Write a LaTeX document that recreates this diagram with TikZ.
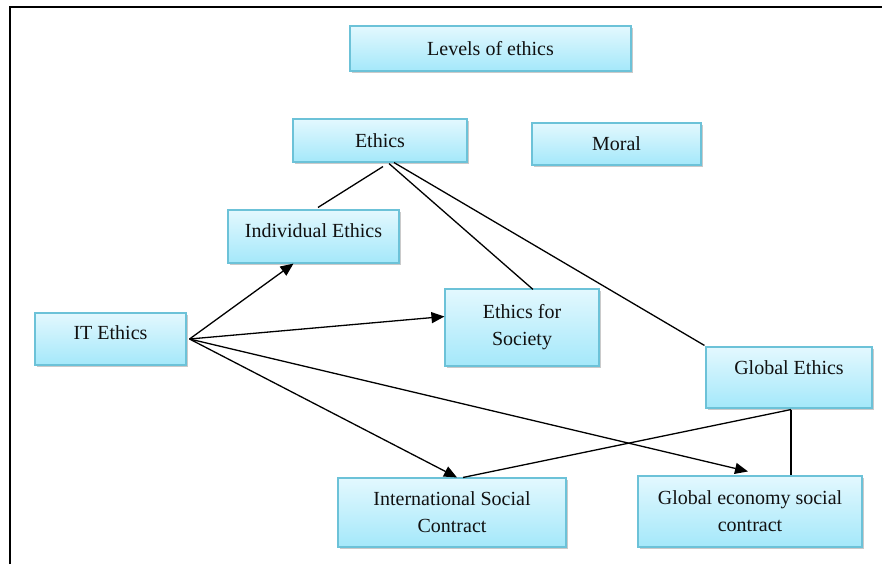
\documentclass[tikz,border=0pt]{standalone}
\usepackage{fontspec}
\setmainfont{Liberation Serif}
\usetikzlibrary{arrows.meta,shadows,calc}
\definecolor{boxtop}{HTML}{E3F8FE}
\definecolor{boxbot}{HTML}{A4E8FA}
\definecolor{boxline}{HTML}{6CC2D8}
\definecolor{txt}{HTML}{111111}
\newcommand{\upby}[2]{\raisebox{#1}[\height][\depth]{#2}}
\begin{document}
\begin{tikzpicture}[x=1pt,y=-1pt,
  box/.style={draw=boxline, line width=1.1pt, top color=boxtop, bottom color=boxbot,
    text=txt, align=center, inner sep=0pt,
    font=\fontsize{20}{27}\selectfont,
    drop shadow={shadow xshift=1.5pt, shadow yshift=-2pt, opacity=0.35, fill=black!60}},
  link/.style={line width=1.3pt, draw=black},
  arr/.style={link, -{Triangle[length=13pt,width=11pt]}}]
\useasboundingbox (0,0) rectangle (882,564);
\draw[line width=2.3pt] (9.7,564) -- (9.7,7.2) -- (882,7.2);

\node[box, minimum width=281pt, minimum height=45pt] (lev) at (490.5,48.5) {Levels of ethics};
\node[box, minimum width=174pt, minimum height=43pt] (eth) at (380,140.5) {Ethics};
\node[box, minimum width=169pt, minimum height=42pt] (mor) at (616.5,144) {Moral};
\node[box, minimum width=171pt, minimum height=53pt] (ind) at (313.5,236.5) {\upby{6pt}{Individual Ethics}};
\node[box, minimum width=151pt, minimum height=52pt] (it) at (110.5,339) {\upby{6pt}{IT Ethics}};
\node[box, minimum width=154pt, minimum height=77pt] (efs) at (522,327.5) {Ethics for\\Society};
\node[box, minimum width=166pt, minimum height=61pt] (ge) at (789,377.5) {\upby{10pt}{Global Ethics}};
\node[box, minimum width=228pt, minimum height=69pt] (isc) at (452,512.5) {International Social\\Contract};
\node[box, minimum width=224pt, minimum height=71pt] (gec) at (750,511.5) {Global economy social\\contract};

% Ethics links
\draw[link] ([xshift=3pt,yshift=-4pt]eth.south) -- ([xshift=4.5pt,yshift=2pt]ind.north);
\draw[link] ([xshift=9pt,yshift=-1pt]eth.south) -- ([xshift=11pt,yshift=-1pt]efs.north);
\draw[link] ([xshift=14pt]eth.south) -- ([xshift=-1pt,yshift=1pt]ge.north west);

% IT Ethics arrows
\coordinate (itout) at ([xshift=3pt]it.east);
\draw[arr] (itout) -- ([xshift=-20pt]ind.south);
\draw[arr] (itout) -- ([yshift=11pt]efs.west);
\draw[arr] (itout) -- ([xshift=5pt]isc.north);
\draw[arr] (itout) -- ([xshift=-2pt,yshift=4pt]gec.north);

% Global Ethics links
\draw[link] ([xshift=2pt,yshift=-1pt]ge.south) -- ([xshift=11pt]isc.north);
\draw[link] ([xshift=2pt,yshift=-1pt]ge.south) -- ([xshift=2pt]ge.south |- gec.north);
\end{tikzpicture}
\end{document}
